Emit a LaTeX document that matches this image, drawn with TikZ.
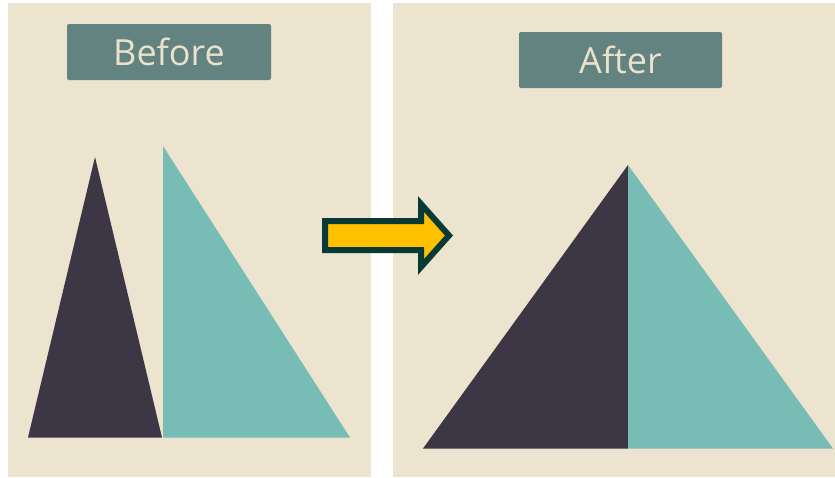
\documentclass[tikz,border=0pt]{standalone}
\usepackage{fontspec}
\setmainfont{Open Sans}
\definecolor{beige}{HTML}{EDE4D0}
\definecolor{darktri}{HTML}{3C3645}
\definecolor{tealtri}{HTML}{77BDB6}
\definecolor{labelbg}{HTML}{62837F}
\definecolor{labeltxt}{HTML}{EAE2CC}
\definecolor{arrowfill}{HTML}{FFC000}
\definecolor{arrowline}{HTML}{083A35}
\begin{document}
\begin{tikzpicture}[x=1pt,y=-1pt,
  panel/.style={fill=beige,draw=none},
  labelbox/.style={fill=labelbg,rounded corners=2pt,draw=none},
  labeltext/.style={text=labeltxt,font=\fontsize{36}{40}\selectfont,inner sep=0pt},
  darkshape/.style={fill=darktri,draw=none},
  tealshape/.style={fill=tealtri,draw=none},
  bigarrow/.style={fill=arrowfill,draw=arrowline,line width=6pt,line join=miter}]
\useasboundingbox (0,0) rectangle (835,477);
\fill[white] (0,0) rectangle (835,477);
% panels
\path[panel] (8,3) rectangle (371,477);
\path[panel] (393,3) rectangle (835,477);
% labels
\path[labelbox] (67,24) rectangle (271,80);
\node[labeltext] (before) at (169,52) {Before};
\path[labelbox] (519,32) rectangle (722,88);
\node[labeltext] (after) at (620.5,60) {After};
% before triangles
\path[darkshape] (95,157) -- (162,437.5) -- (28,437.5) -- cycle;
\path[tealshape] (163,146) -- (350,437.5) -- (163,437.5) -- cycle;
% after triangles
\path[darkshape] (628,165) -- (628,448.5) -- (423,448.5) -- cycle;
\path[tealshape] (628,165) -- (833,448.5) -- (628,448.5) -- cycle;
% arrow
\draw[bigarrow] (325,221) -- (421,221) -- (421,204) -- (449,235.5) -- (421,267) -- (421,250) -- (325,250) -- cycle;
\end{tikzpicture}
\end{document}
